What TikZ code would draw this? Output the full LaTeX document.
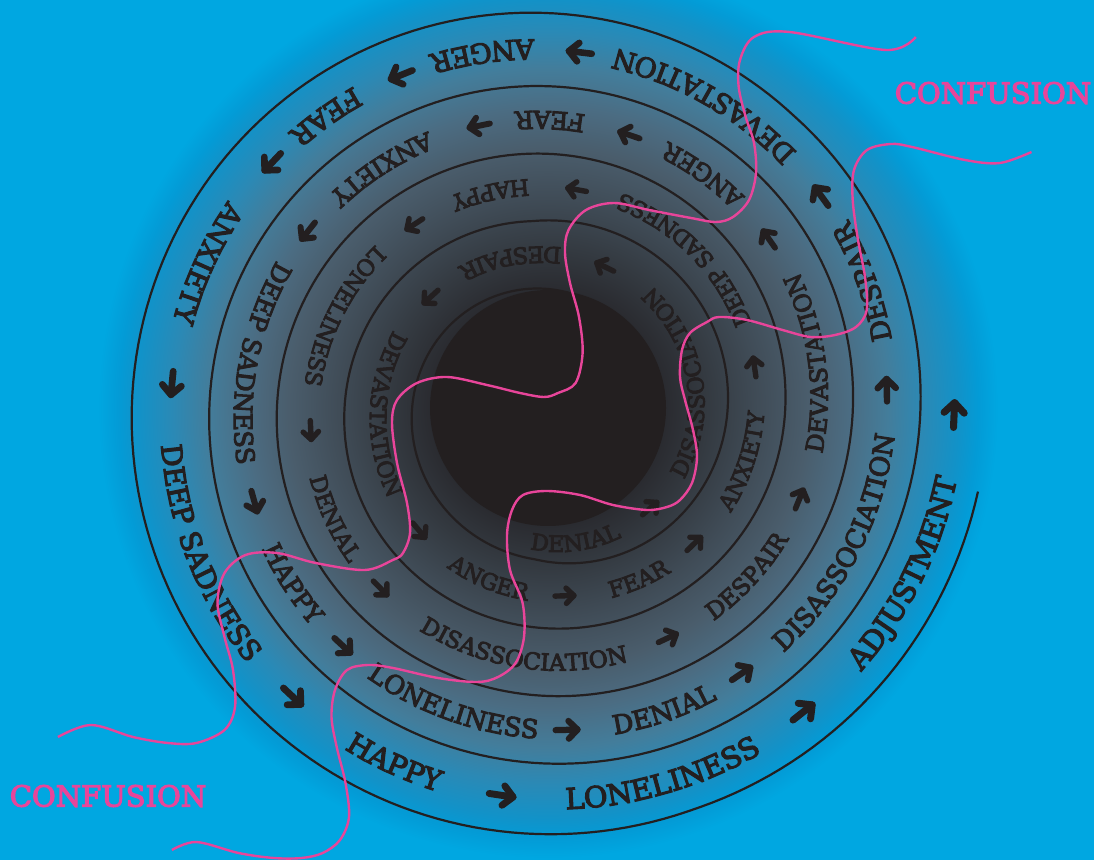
\documentclass[tikz,border=0pt]{standalone}
\usepackage{fontspec}
\setmainfont{DejaVu Serif}
\newfontfamily\spiralfont{DejaVu Serif}[FakeBold=4]
\usetikzlibrary{decorations.text}

\definecolor{skyblue}{HTML}{00A7E1}
\definecolor{inkdark}{HTML}{231F20}
\definecolor{confpink}{HTML}{E8459A}
\definecolor{glowA}{HTML}{2A2B30}
\definecolor{glowB}{HTML}{343A41}
\definecolor{glowC}{HTML}{404C57}
\definecolor{glowD}{HTML}{4A5D6C}
\definecolor{glowE}{HTML}{4B6C82}
\definecolor{glowF}{HTML}{437D9B}
\definecolor{glowG}{HTML}{2B89B5}
\definecolor{glowH}{HTML}{1292C8}
\definecolor{glowI}{HTML}{039BD6}

% glow round the hole, 25bp = radius 450
\pgfdeclareradialshading{spiralglow}{\pgfpoint{0bp}{0bp}}{%
  color(0bp)=(inkdark);
  color(6.56bp)=(glowA);
  color(8.89bp)=(glowB);
  color(11.67bp)=(glowC);
  color(14.44bp)=(glowD);
  color(16.67bp)=(glowE);
  color(18.89bp)=(glowF);
  color(20.83bp)=(glowG);
  color(22.78bp)=(glowH);
  color(23.9bp)=(glowI);
  color(25bp)=(skyblue);
  color(50bp)=(skyblue)}

% spiral line radius, middle of its band, size of the words
\pgfmathdeclarefunction{sprad}{1}{\pgfmathparse{119+0.18778*(#1-90)
  +10*max(0,1-((#1-360)/95)^2)+10*max(0,1-((#1-1610)/120)^2)}}
\pgfmathdeclarefunction{spmid}{1}{\pgfmathparse{(#1<440)*((117+sprad(#1))/2)
  +(#1>=440)*((sprad(#1)+sprad(#1-360))/2)}}
\pgfmathdeclarefunction{spsize}{1}{\pgfmathparse{max(22.5,22.5+0.0078*(#1-900))}}

\newcommand\wordfont{\spiralfont\fontsize{\wsize}{\wsize}\selectfont}

\tikzset{
  spiralline/.style={draw=inkdark, line width=2.2pt},
  arrowstroke/.style={draw=inkdark, line cap=round, line join=round},
  confline/.style={draw=confpink, line width=2.4pt},
  conflabel/.style={text=confpink, inner sep=0pt, font=\spiralfont\fontsize{29}{29}\selectfont}
}

\begin{document}
\begin{tikzpicture}[x=1pt, y=1pt]

    % Background
    \useasboundingbox (0,0) rectangle (1094,859);
    \fill[skyblue] (-5,-5) rectangle (1099,864);

    % Glow and the dark hole
    \shade[shading=spiralglow] (548,451) circle (450);
    \fill[inkdark] (548,451) circle (118);

    % Draw the spiral
    \draw[spiralline] plot[domain=80:1789, samples=1000, variable=\t]
      ({548+sprad(\t)*cos(\t)}, {451+sprad(\t)*sin(\t)});

    % Words along the spiral
    \foreach \a/\w in {279/DENIAL, 370/DISASSOCIATION, 462/DESPAIR, 539.3/DEVASTATION,
        608/ANGER, 654.8/FEAR, 702.3/ANXIETY, 765.6/DEEP SADNESS, 823.3/HAPPY,
        873.8/LONELINESS, 925.4/DENIAL, 982.2/DISASSOCIATION, 1038/DESPAIR,
        1088/DEVASTATION, 1134.8/ANGER, 1168/FEAR, 1203.2/ANXIETY,
        1249.6/DEEP SADNESS, 1293/HAPPY, 1330.8/LONELINESS, 1369.5/DENIAL,
        1413.5/DISASSOCIATION, 1460.3/DESPAIR, 1501.1/DEVASTATION, 1538.9/ANGER,
        1565.8/FEAR, 1595.8/ANXIETY, 1642/DEEP SADNESS, 1685.7/HAPPY,
        1726.3/LONELINESS, 1774/ADJUSTMENT} {
      \pgfmathsetmacro\wsize{spsize(\a)}
      \pgfmathsetmacro\woff{0.36*\wsize}
      \path[decorate, decoration={text along path, text align=center, text color=inkdark,
          text/.expanded={|\noexpand\wordfont|\w}}]
        plot[domain=\a-70:\a+70, samples=80, variable=\t]
          ({548+(spmid(\t)+\woff)*cos(\t)}, {451+(spmid(\t)+\woff)*sin(\t)});
    }

    % Arrows between the words
    \foreach \a in {315.3, 427.9, 496.4, 583.4, 635, 677, 731.1, 802.4, 845.9, 905.3,
        947, 1017.4, 1060, 1117.3, 1153.3, 1183.6, 1223.5, 1277.6, 1309.1, 1353.3,
        1386, 1443, 1477.7, 1524.8, 1553.7, 1578.2, 1616.2, 1668.4, 1703.1, 1749.9,
        1799} {
      \pgfmathsetmacro\ar{spmid(\a)}
      \pgfmathsetmacro\as{spsize(\a)}
      \pgfmathsetmacro\tang{\a+90-atan(10.76/\ar)}
      \pgfmathsetmacro\hl{0.42*\as}
      \pgfmathsetmacro\hh{0.34*\as}
      \pgfmathsetmacro\lw{0.24*\as}
      \begin{scope}[shift={({548+\ar*cos(\a)},{451+\ar*sin(\a)})}, rotate=\tang]
        \draw[arrowstroke, line width=\lw pt] (-\hl,0) -- (\hl,0);
        \draw[arrowstroke, line width=\lw pt] ({\hl-\hh},\hh) -- (\hl,0) -- ({\hl-\hh},-\hh);
      \end{scope}
    }

    % Confusion lines
    \draw[confline] plot[smooth, tension=0.55] coordinates {
      (915.8,822) (886,809) (789.5,827) (754,822) (740,799) (738.7,772)
      (745.7,742) (754,716) (756,686) (749,659) (733,642) (716,637) (691,641)
      (649,649) (614,656) (586,649) (568.5,629) (565,606) (570,576) (579,542)
      (582.6,506) (575.6,476) (558,466) (544,462) (520,466) (487,474) (447,482)
      (417,476) (397,459) (392,436) (397,396) (407,356) (410,326) (403,306)
      (392.8,299) (364.8,289) (315.7,296) (277,306) (245.5,304) (224.5,286)
      (217.5,256) (224.5,222) (233,189) (235,152) (224.5,129) (196.4,116)
      (168,116) (133,122) (91,134) (57.9,122)};
    \draw[confline] plot[smooth, tension=0.55] coordinates {
      (1031.5,707) (1000,696) (965,699) (912,712) (891,715) (867,709) (854,689)
      (852.7,659) (858,619) (865,582) (866.7,549) (856,532) (835,524) (810.6,522)
      (782.5,529) (747,539) (719,542) (707,537) (690,526) (682,509) (680,482)
      (685,459) (693,429) (697,402) (692,376) (680,359) (667,352) (647,349)
      (613,354) (580,364) (547,368) (523,364) (512,349) (507,324) (510,289)
      (522.6,256) (524,222) (515.6,196) (498,182) (477,177) (438,181) (393,191)
      (368,194) (347,189) (335,169) (331.5,142) (336.7,112) (345.5,76) (349,42)
      (340,19) (322.7,6) (301.6,1) (273.6,1) (238.5,6) (196.4,17) (171.9,9)};

    % Labels
    \node[conflabel] (confTop) at (993,766) {CONFUSION};
    \node[conflabel] (confBottom) at (108,63) {CONFUSION};

\end{tikzpicture}
\end{document}
